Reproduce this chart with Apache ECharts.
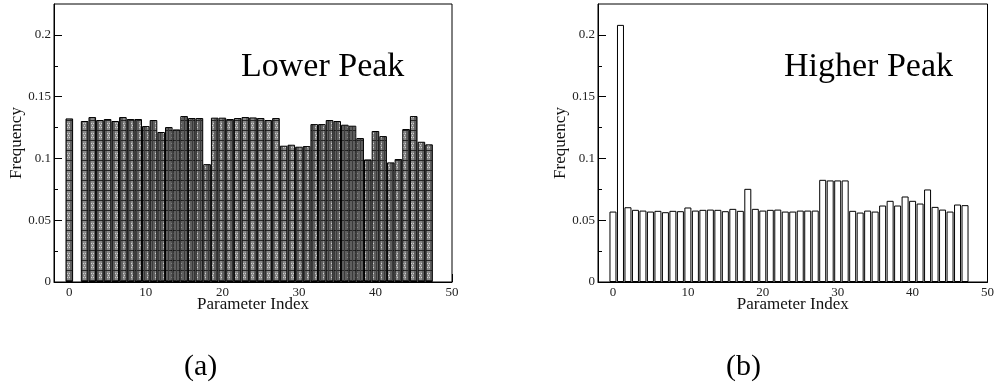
<!DOCTYPE html>
<html>
<head>
<meta charset="utf-8">
<script src="https://cdn.jsdelivr.net/npm/echarts@6/dist/echarts.min.js"></script>
<style>
html,body{margin:0;padding:0;background:#fff;}
#chart{width:997px;height:390px;}
</style>
</head>
<body>
<div id="chart"></div>
<script>
// ---- data ----
const paramIndex = [0,1,2,3,4,5,6,7,8,9,10,11,12,13,14,15,16,17,18,19,20,21,22,23,24,25,26,27,28,29,30,31,32,33,34,35,36,37,38,39,40,41,42,43,44,45,46,47];
const lowerPeak = [0.1324,null,0.1303,0.1335,0.1311,0.1319,0.1303,0.1335,0.1319,0.1319,0.1262,0.1311,0.1214,0.1254,0.1235,0.1343,0.1327,0.1327,0.0954,0.1330,0.1330,0.1319,0.1327,0.1335,0.1332,0.1327,0.1311,0.1327,0.1103,0.1111,0.1095,0.1100,0.1278,0.1278,0.1311,0.1303,0.1273,0.1265,0.1165,0.0992,0.1222,0.1181,0.0968,0.0995,0.1238,0.1343,0.1135,0.1114];
const higherPeak = [0.0570,0.2081,0.0605,0.0584,0.0578,0.0570,0.0576,0.0565,0.0576,0.0573,0.0603,0.0578,0.0584,0.0586,0.0584,0.0573,0.0592,0.0576,0.0754,0.0592,0.0578,0.0584,0.0586,0.0570,0.0570,0.0578,0.0578,0.0578,0.0827,0.0822,0.0822,0.0822,0.0576,0.0562,0.0578,0.0570,0.0619,0.0657,0.0619,0.0692,0.0657,0.0635,0.0749,0.0608,0.0586,0.0570,0.0627,0.0622];
const xMajorTicks = [0,10,20,30,40,50];
const xMinorTicks = [5,15,25,35,45];
const yMajorTicks = [0,0.05,0.1,0.15,0.2];
const yMinorTicks = [0.025,0.075,0.125,0.175];
const panelLabels = ['Lower Peak','Higher Peak'];
const subLabels = ['(a)','(b)'];
const xName = 'Parameter Index';
const yName = 'Frequency';

// ---- pattern for the left bars ----
const pc = document.createElement('canvas');
pc.width = 8; pc.height = 10;
const ctx = pc.getContext('2d');
ctx.fillStyle = '#5e5e5e'; ctx.fillRect(0,0,8,10);
ctx.fillStyle = '#262626'; ctx.fillRect(0,0,8,1);
ctx.fillStyle = '#3a3a3a'; ctx.fillRect(0,0,1,10);
ctx.fillStyle = '#8a8a8a'; ctx.fillRect(3,1,3,9);
ctx.fillStyle = '#cfcfcf';
ctx.fillRect(3,3,1,1); ctx.fillRect(5,3,1,1); ctx.fillRect(4,5,1,1); ctx.fillRect(3,7,1,1); ctx.fillRect(5,7,1,1);

const FONT = '"Liberation Serif","Times New Roman",serif';
const chart = echarts.init(document.getElementById('chart'), null, {renderer:'canvas'});

const grids = [
  {left:54, right:545, top:4, bottom:108},
  {left:598, right:3, top:4, bottom:108}
];

function xAxes(g){
  return [
    {gridIndex:g, type:'value', min:-2, max:50, position:'bottom',
     axisLine:{show:true, onZero:false, lineStyle:{color:'#000', width:1}},
     axisTick:{show:true, inside:true, length:8, customValues:xMajorTicks, lineStyle:{color:'#000'}},
     axisLabel:{show:true, customValues:xMajorTicks, margin:4, fontFamily:FONT, fontSize:13, color:'#222'},
     splitLine:{show:false},
     name:xName, nameLocation:'middle', nameGap:14, nameMoveOverlap:false,
     nameTextStyle:{fontFamily:FONT, fontSize:17, color:'#111'}},
    {gridIndex:g, type:'value', min:-2, max:50, position:'bottom', offset:0,
     axisLine:{show:false, onZero:false},
     axisTick:{show:true, inside:true, length:4, customValues:xMinorTicks, lineStyle:{color:'#000'}},
     axisLabel:{show:false}, splitLine:{show:false}}
  ];
}
function yAxes(g){
  return [
    {gridIndex:g, type:'value', min:0, max:0.225, position:'left',
     axisLine:{show:true, onZero:false, lineStyle:{color:'#000', width:1}},
     axisTick:{show:true, inside:true, length:8, customValues:yMajorTicks, lineStyle:{color:'#000'}},
     axisLabel:{show:true, customValues:yMajorTicks, margin:3, fontFamily:FONT, fontSize:13, color:'#222'},
     splitLine:{show:false},
     name:yName, nameLocation:'middle', nameGap:29, nameMoveOverlap:false,
     nameTextStyle:{fontFamily:FONT, fontSize:17, color:'#111'}},
    {gridIndex:g, type:'value', min:0, max:0.225, position:'left', offset:0,
     axisLine:{show:false, onZero:false},
     axisTick:{show:true, inside:true, length:4, customValues:yMinorTicks, lineStyle:{color:'#000'}},
     axisLabel:{show:false}, splitLine:{show:false}}
  ];
}

const option = {
  backgroundColor:'#fff',
  animation:false,
  grid: grids.map(g => Object.assign({show:true, borderColor:'#000', borderWidth:1, backgroundColor:'transparent'}, g)),
  xAxis: [...xAxes(0), ...xAxes(1)],
  yAxis: [...yAxes(0), ...yAxes(1)],
  series: [
    {type:'bar', xAxisIndex:0, yAxisIndex:0, barWidth:7.6,
     data: paramIndex.map((x,i)=>[x, lowerPeak[i]]),
     itemStyle:{color:{image:pc, repeat:'repeat'}, borderColor:'#000', borderWidth:1}},
    {type:'bar', xAxisIndex:2, yAxisIndex:2, barWidth:7,
     data: paramIndex.map((x,i)=>[x, higherPeak[i]]),
     itemStyle:{color:'#fff', borderColor:'#000', borderWidth:1}}
  ],
  graphic: [
    {type:'text', left:241, top:50, style:{text:panelLabels[0], font:'34px '+FONT, fill:'#000'}},
    {type:'text', left:784, top:50, style:{text:panelLabels[1], font:'34px '+FONT, fill:'#000'}},
    {type:'text', left:184, top:352, style:{text:subLabels[0], font:'30px '+FONT, fill:'#000'}},
    {type:'text', left:726, top:352, style:{text:subLabels[1], font:'30px '+FONT, fill:'#000'}}
  ]
};
chart.setOption(option);
</script>
</body>
</html>
